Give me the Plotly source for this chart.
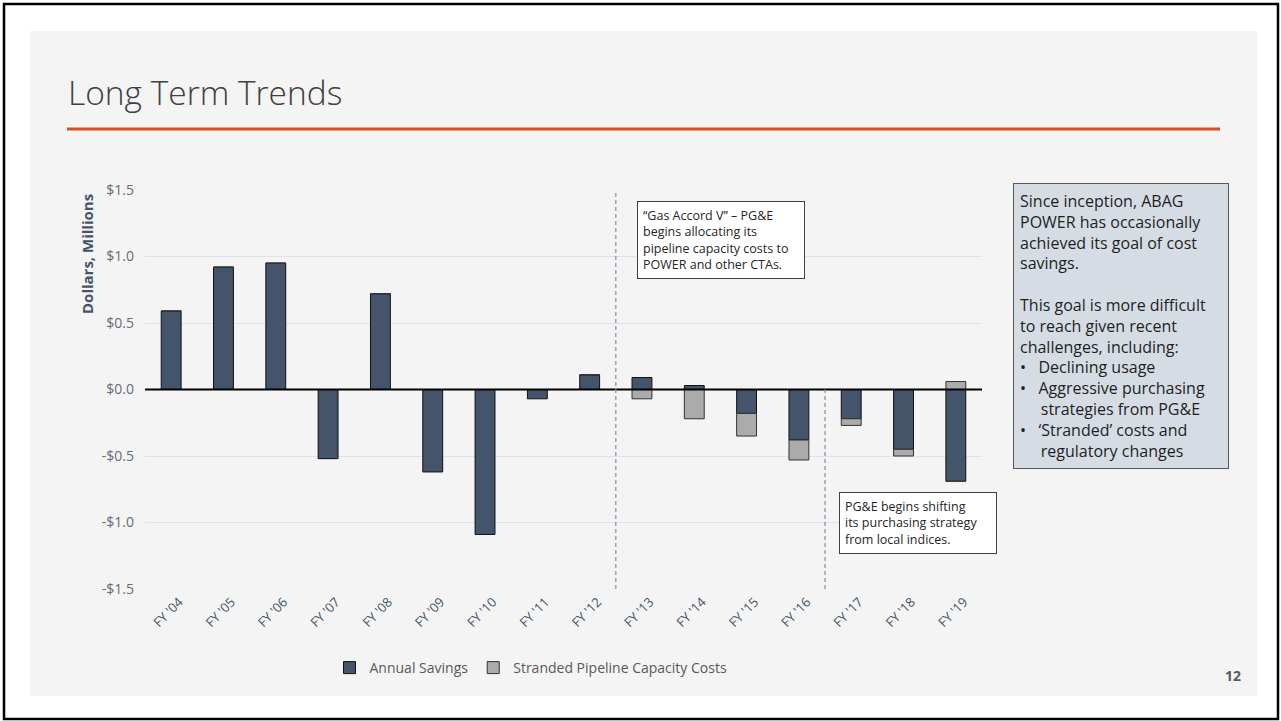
import plotly.graph_objects as go

W, H = 1281, 721

categories = ["FY '04", "FY '05", "FY '06", "FY '07", "FY '08", "FY '09", "FY '10", "FY '11",
              "FY '12", "FY '13", "FY '14", "FY '15", "FY '16", "FY '17", "FY '18", "FY '19"]
annual_savings = [0.59, 0.92, 0.95, -0.52, 0.72, -0.62, -1.09, -0.07,
                  0.11, 0.09, 0.03, -0.18, -0.38, -0.22, -0.45, -0.69]
stranded_costs = [0, 0, 0, 0, 0, 0, 0, 0,
                  0, -0.07, -0.22, -0.17, -0.15, -0.05, -0.05, 0.06]
y_tickvals = [-1.5, -1.0, -0.5, 0.0, 0.5, 1.0, 1.5]
y_ticktext = ["-$1.5", "-$1.0", "-$0.5", "$0.0", "$0.5", "$1.0", "$1.5"]


def px(x):
    return x / W


def py(y):
    return 1 - y / H


FONT = "Open Sans, Segoe UI, sans-serif"

fig = go.Figure()
fig.add_trace(go.Bar(
    x=categories, y=annual_savings, name="Annual Savings",
    marker=dict(color="#44546a", line=dict(color="#111111", width=1)),
))
fig.add_trace(go.Bar(
    x=categories, y=stranded_costs, name="Stranded Pipeline Capacity Costs",
    marker=dict(color="#ababab", line=dict(color="#333333", width=1)),
))

shapes = [
    dict(type="rect", xref="paper", yref="paper", x0=px(4), x1=px(1278), y0=py(4), y1=py(719),
         line=dict(color="#000000", width=2.5), fillcolor="#ffffff", layer="below"),
    dict(type="rect", xref="paper", yref="paper", x0=px(30), x1=px(1257), y0=py(31), y1=py(696),
         line=dict(width=0), fillcolor="#f4f4f4", layer="below"),
    dict(type="line", xref="paper", yref="paper", x0=px(67), x1=px(1220), y0=py(129), y1=py(129),
         line=dict(color="#dc4a26", width=3)),
    dict(type="line", xref="x domain", yref="y", x0=0, x1=1, y0=0, y1=0,
         line=dict(color="#000000", width=2.2), layer="above"),
    dict(type="line", xref="x", yref="y", x0=8.5, x1=8.5, y0=-1.5, y1=1.5,
         line=dict(color="#8496b0", width=1.3, dash="4px,3px")),
    dict(type="line", xref="x", yref="y", x0=12.5, x1=12.5, y0=-1.5, y1=0,
         line=dict(color="#8496b0", width=1.3, dash="4px,3px")),
]

NB = "\u00a0"
annotations = [
    dict(text="Long Term Trends", xref="paper", yref="paper", x=px(66), y=py(92),
         xanchor="left", yanchor="middle", showarrow=False,
         font=dict(family=FONT, size=33.5, color="#404040", weight=300)),
    dict(text="<b>Dollars, Millions</b>", xref="paper", yref="paper", x=px(87), y=py(254),
         xanchor="center", yanchor="middle", showarrow=False, textangle=-90,
         font=dict(family=FONT, size=15, color="#44546a")),
    dict(text="“Gas Accord V” – PG&E<br>begins allocating its<br>pipeline capacity costs to<br>POWER and other CTAs.",
         xref="paper", yref="paper", x=px(637), y=py(201), xanchor="left", yanchor="top",
         showarrow=False, align="left", width=156, borderpad=5, bgcolor="#ffffff",
         bordercolor="#404040", borderwidth=1,
         font=dict(family=FONT, size=12.5, color="#262626")),
    dict(text="PG&E begins shifting<br>its purchasing strategy<br>from local indices.",
         xref="paper", yref="paper", x=px(839), y=py(492), xanchor="left", yanchor="top",
         showarrow=False, align="left", width=146, borderpad=5, bgcolor="#ffffff",
         bordercolor="#404040", borderwidth=1,
         font=dict(family=FONT, size=12.5, color="#262626")),
    dict(text=("Since inception, ABAG<br>POWER has occasionally<br>achieved its goal of cost<br>savings.<br> <br>"
               "This goal is more difficult<br>to reach given recent<br>challenges, including:<br>"
               f"•{NB*3}Declining usage<br>•{NB*3}Aggressive purchasing<br>{NB*5}strategies from PG&E<br>"
               f"•{NB*3}‘Stranded’ costs and<br>{NB*5}regulatory changes"),
         xref="paper", yref="paper", x=px(1013), y=py(183), xanchor="left", yanchor="top",
         showarrow=False, align="left", width=202, borderpad=6, bgcolor="#d6dce4",
         bordercolor="#595959", borderwidth=1,
         font=dict(family=FONT, size=16, color="#1f1f1f")),
    dict(text="<b>12</b>", xref="paper", yref="paper", x=px(1233), y=py(675),
         xanchor="center", yanchor="middle", showarrow=False,
         font=dict(family=FONT, size=14, color="#595959")),
]

fig.update_layout(
    width=W, height=H,
    margin=dict(l=0, r=0, t=0, b=0, pad=0, autoexpand=False),
    paper_bgcolor="#ffffff",
    plot_bgcolor="rgba(0,0,0,0)",
    barmode="relative",
    bargap=0.62,
    font=dict(family=FONT),
    shapes=shapes,
    annotations=annotations,
    showlegend=True,
    legend=dict(orientation="h", x=px(531), y=py(668), xanchor="center", yanchor="middle",
                font=dict(family=FONT, size=14, color="#595959"), bgcolor="rgba(0,0,0,0)",
                itemwidth=30, traceorder="normal"),
    xaxis=dict(domain=[px(145), px(982)], type="category", tickangle=-45, automargin=False,
               showgrid=False, showline=False, ticks="", ticklabelstandoff=2, ticklabelshift=8,
               tickfont=dict(family=FONT, size=13, color="#44546a"), fixedrange=True),
    yaxis=dict(domain=[py(589), py(190)], range=[-1.5, 1.5], tickvals=y_tickvals, automargin=False,
               ticktext=y_ticktext, showgrid=True, gridcolor="#dde3eb", gridwidth=1,
               zeroline=False, showline=False, ticks="", ticklabelstandoff=10,
               tickfont=dict(family=FONT, size=14, color="#636d7b"), fixedrange=True),
)

fig.write_html(
    "out.html",
    config={"displayModeBar": False},
    post_script="document.body.style.margin='0';",
)
